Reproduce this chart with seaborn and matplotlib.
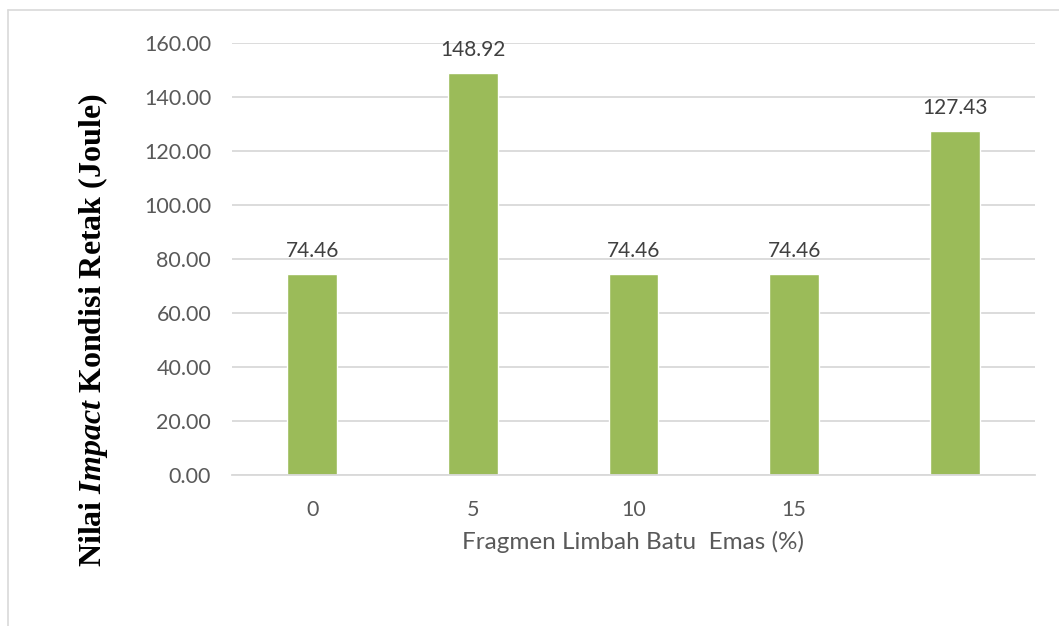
import matplotlib
matplotlib.use("Agg")
import matplotlib.pyplot as plt
from matplotlib.lines import Line2D
import seaborn as sns
import pandas as pd

# Impact values (Joule) per waste-fragment content
tick_labels = ["0", "5", "10", "15", ""]
impact_values = [74.46, 148.92, 74.46, 74.46, 127.43]
y_ticks = [0, 20, 40, 60, 80, 100, 120, 140, 160]

df = pd.DataFrame({"pos": list(range(len(impact_values))), "impact": impact_values})

sns.set_theme(style="white")
plt.rcParams["font.family"] = ["Lato", "DejaVu Sans"]
plt.rcParams["mathtext.fontset"] = "custom"
plt.rcParams["mathtext.rm"] = "Liberation Serif:bold"
plt.rcParams["mathtext.it"] = "Liberation Serif:italic:bold"

fig = plt.figure(figsize=(10.59, 6.26), dpi=100)
ax = fig.add_axes([232 / 1059, 1 - 475 / 626, (1035 - 232) / 1059, 432 / 626])

bar_color = "#9BBB59"
sns.barplot(data=df, x="pos", y="impact", color=bar_color, width=0.31,
            saturation=1, ax=ax, errorbar=None)

ax.set_ylim(0, 160)
ax.set_yticks(y_ticks)
ax.set_yticklabels([f"{v:.2f}" for v in y_ticks], color="#595959", fontsize=15.5)
ax.set_xticks(range(len(tick_labels)))
ax.set_xticklabels(tick_labels, color="#595959", fontsize=15.5)
ax.tick_params(axis="y", length=0, pad=15)
ax.tick_params(axis="x", length=0, pad=18)

ax.grid(axis="y", color="#D9D9D9", linewidth=1.3)
ax.set_axisbelow(True)
for side in ["top", "right", "left"]:
    ax.spines[side].set_visible(False)
ax.spines["bottom"].set_color("#D9D9D9")
ax.spines["bottom"].set_linewidth(1.3)

for i, v in enumerate(impact_values):
    ax.annotate(f"{v:.2f}", (i, v), xytext=(0, 9), textcoords="offset points",
                ha="center", va="bottom", color="#404040", fontsize=15)

ax.set_xlabel("Fragmen Limbah Batu  Emas (%)", color="#595959", fontsize=17.5, labelpad=8)
ax.set_ylabel(r"Nilai $\mathit{Impact}$ Kondisi Retak (Joule)",
              family="Liberation Serif", weight="bold", fontsize=23,
              color="black")
ax.yaxis.set_label_coords(-0.152, 0.336)

# outer chart frame
fig.add_artist(Line2D([8 / 1059, 8 / 1059], [0, 1 - 10 / 626], color="#D9D9D9", lw=1.2))
fig.add_artist(Line2D([8 / 1059, 1], [1 - 10 / 626, 1 - 10 / 626], color="#D9D9D9", lw=1.2))

fig.savefig("out.png", dpi=100, facecolor="white")
